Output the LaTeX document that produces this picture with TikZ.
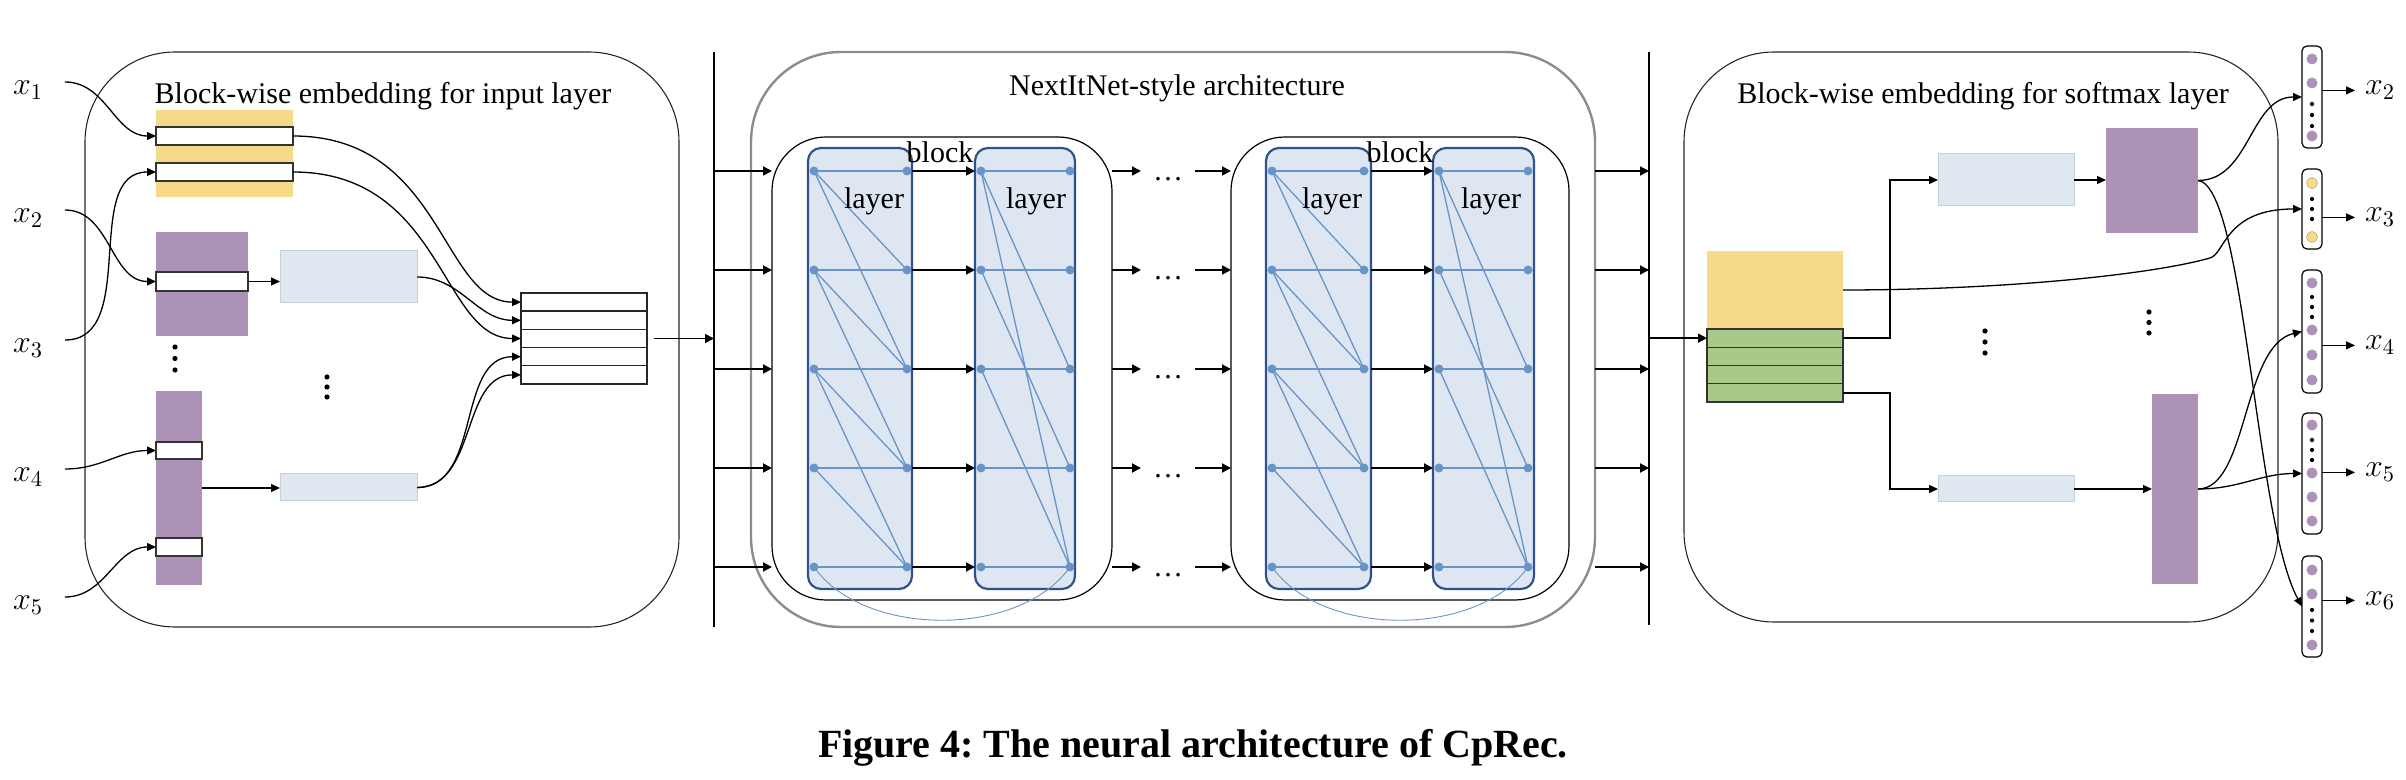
\RequirePackage{fix-cm}
\documentclass[tikz,border=0pt]{standalone}
\usepackage{fontspec}
\setmainfont{Liberation Serif}
\usetikzlibrary{arrows.meta,fit,calc}
\definecolor{cyel}{RGB}{246,218,138}
\definecolor{cpur}{RGB}{171,146,182}
\definecolor{clb}{RGB}{223,231,240}
\definecolor{clbd}{RGB}{198,209,222}
\definecolor{cgrn}{RGB}{169,201,139}
\definecolor{ccol}{RGB}{222,231,241}
\definecolor{ccold}{RGB}{47,82,143}
\definecolor{cnet}{RGB}{104,148,200}
\definecolor{cgray}{RGB}{140,140,140}
\begin{document}
\begin{tikzpicture}[x=0.5pt,y=-0.5pt,
  every node/.style={inner sep=0pt, outer sep=0pt},
  bx/.style={fit={#1}},
  panel/.style={draw=black!85, line width=0.55pt, rounded corners=45pt},
  wrect/.style={draw=black!80, fill=white, line width=0.8pt},
  lbbox/.style={fill=clb, draw=clbd, line width=0.5pt},
  colbox/.style={fill=ccol, draw=ccold, line width=1.1pt, rounded corners=6.5pt},
  blkbox/.style={draw, line width=0.6pt, rounded corners=27pt},
  stk/.style={draw=black!85, fill=white, line width=0.7pt},
  greenrow/.style={draw=black!80, fill=cgrn, line width=0.7pt},
  ndot/.style={circle, fill=cnet, minimum size=4.5pt},
  vdot/.style={circle, fill=black, minimum size=2.6pt},
  sdot/.style={circle, fill=black, minimum size=2.1pt},
  odot/.style={circle, fill=#1, minimum size=5.5pt},
  ovec/.style={draw, line width=0.6pt, rounded corners=2.5pt},
  arr/.style={-{Triangle[length=4.5pt,width=4pt]}, line width=0.65pt},
  barr/.style={-{Triangle[length=4.5pt,width=4.5pt]}, line width=0.9pt},
  hnet/.style={cnet, line width=1pt},
  dnet/.style={cnet, line width=0.65pt},
  ttl/.style={font=\fontsize{15}{18}\selectfont, anchor=base},
  xlab/.style={font=\fontsize{16}{19}\selectfont, anchor=base west},
  ell/.style={font=\fontsize{15}{18}\selectfont, minimum width=27pt, text height=10pt, text depth=0pt},
]
\useasboundingbox (0,0) rectangle (2406,780);

% ---------------- left panel ----------------
\node[panel, bx={(85,52)(679,627)}] (P1) {};
\node[ttl] (t1) at (383,104) {Block-wise embedding for input layer};
\node[bx={(156,110)(293,197)}, fill=cyel] (yel1) {};
\node[wrect, bx={(156,127)(293,145)}] (w1) {};
\node[wrect, bx={(156,163)(293,181)}] (w2) {};
\node[bx={(156,232)(248,336)}, fill=cpur] (pu1) {};
\node[wrect, bx={(156,272)(248,291)}] (w3) {};
\node[lbbox, bx={(280,251)(417,303)}] (lb1) {};
\node[bx={(156,391)(202,585)}, fill=cpur] (pu2) {};
\node[wrect, bx={(156,442)(202,459)}] (w4) {};
\node[wrect, bx={(156,538)(202,556)}] (w5) {};
\node[lbbox, bx={(280,474)(417,501)}] (lb2) {};
\node[stk, bx={(521,293)(647,311.2)}] (s1) {};
\node[stk, bx={(521,311.2)(647,329.4)}] (s2) {};
\node[stk, bx={(521,329.4)(647,347.6)}] (s3) {};
\node[stk, bx={(521,347.6)(647,365.8)}] (s4) {};
\node[stk, bx={(521,365.8)(647,384)}] (s5) {};
\node[vdot] (ld1) at (175,347) {};
\node[vdot] (ld2) at (175,358.5) {};
\node[vdot] (ld3) at (175,370) {};
\node[vdot] (ld4) at (327,377) {};
\node[vdot] (ld5) at (327,387) {};
\node[vdot] (ld6) at (327,397) {};

\node[xlab] (xi1) at (13,95) {$x_1$};
\node[xlab] (xi2) at (13,223) {$x_2$};
\node[xlab] (xi3) at (13,353) {$x_3$};
\node[xlab] (xi4) at (13,482) {$x_4$};
\node[xlab] (xi5) at (13,610) {$x_5$};
\draw[arr] ($(xi1.base east)+(22,-13)$) to[out=0,in=180] (w1.west);
\draw[arr] ($(xi2.base east)+(22,-13)$) to[out=0,in=180] (w3.west);
\draw[arr] ($(xi3.base east)+(22,-13)$) to[out=0,in=180] (w2.west);
\draw[arr] ($(xi4.base east)+(22,-13)$) to[out=0,in=180] (w4.west);
\draw[arr] ($(xi5.base east)+(22,-13)$) to[out=0,in=180] (w5.west);

\draw[arr] (w3.east) -- (w3.east -| lb1.west);
\draw[arr] (pu2.east) -- (pu2.east -| lb2.west);
\draw[arr] (w1.east) .. controls +(150,0) and +(-80,0) .. (s1.west);
\draw[arr] (w2.east) .. controls +(150,0) and +(-80,0) .. (s3.west);
\draw[arr] (lb1.east) to[out=0,in=180] (s2.west);
\draw[arr] (lb2.east) to[out=0,in=180] (s4.west);
\draw[arr] (lb2.east) to[out=0,in=180] (s5.west);

% ---------------- vertical bars ----------------
\coordinate (v1t) at (714,52);
\coordinate (v1b) at (714,627);
\coordinate (v2t) at (1649,52);
\coordinate (v2b) at (1649,625);
\draw[line width=0.8pt] (v1t) -- (v1b);
\draw[line width=0.8pt] (v2t) -- (v2b);
\draw[barr] ($(s3.east)+(7,0)$) -- (s3.east -| v1t);

% ---------------- middle panel ----------------
\node[draw=cgray, line width=1.2pt, rounded corners=45pt, bx={(751,52)(1595,627)}] (G) {};
\node[ttl] (t2) at (1177,96) {NextItNet-style architecture};
\node[blkbox, bx={(772,137)(1112,600)}] (B1) {};
\node[blkbox, bx={(1231,137)(1569,600)}] (B2) {};
\node[colbox, bx={(808,148)(912,589)}] (C1) {};
\node[colbox, bx={(975,148)(1075,589)}] (C2) {};
\node[colbox, bx={(1266,148)(1371,589)}] (C3) {};
\node[colbox, bx={(1433,148)(1534,589)}] (C4) {};

\foreach \c/\xl/\xr in {1/814/907,2/981/1070,3/1272/1364,4/1439/1528}{
  \foreach \r/\y in {1/171,2/270,3/369,4/468,5/567}{
    \coordinate (c\c l\r) at (\xl,\y);
    \coordinate (c\c r\r) at (\xr,\y);
  }
}
\foreach \c in {1,...,4}{\foreach \r in {1,...,5}{\draw[hnet] (c\c l\r) -- (c\c r\r);}}
\foreach \c in {1,3}{\foreach \a/\b in {1/2,1/3,2/3,2/4,3/4,3/5,4/5}{\draw[dnet] (c\c l\a) -- (c\c r\b);}}
\foreach \c in {2,4}{\foreach \a/\b in {1/3,1/5,2/4,3/5}{\draw[dnet] (c\c l\a) -- (c\c r\b);}}
\draw[cnet, line width=0.45pt] (c1l5) .. controls (864,638) and (1020,638) .. (c2r5);
\draw[cnet, line width=0.45pt] (c3l5) .. controls (1322,638) and (1478,638) .. (c4r5);
\foreach \c in {1,...,4}{\foreach \r in {1,...,5}{
  \node[ndot] (d\c l\r) at (c\c l\r) {};
  \node[ndot] (d\c r\r) at (c\c r\r) {};
}}
\node[ttl] (bk1) at (940,163) {block};
\node[ttl] (bk2) at (1400,163) {block};
\node[ttl] (ly1) at (874,209) {layer};
\node[ttl] (ly2) at (1036,209) {layer};
\node[ttl] (ly3) at (1332,209) {layer};
\node[ttl] (ly4) at (1491,209) {layer};

\foreach \r/\y in {1/171,2/270,3/369,4/468,5/567}{
  \node[ell] (e\r) at (1168,\y) {\ldots};
}
\foreach \r in {1,...,5}{
  \draw[barr] (c1r\r -| C1.east) -- (c1r\r -| C2.west);
  \draw[barr] (c3r\r -| C3.east) -- (c3r\r -| C4.west);
  \draw[barr] (c1l\r -| v1t) -- (c1l\r -| B1.west);
  \draw[barr] (c2r\r -| B1.east) -- (e\r.west);
  \draw[barr] (e\r.east) -- (c3l\r -| B2.west);
  \draw[barr] (c4r\r -| G.east) -- (c4r\r -| v2t);
}

% ---------------- right panel ----------------
\node[panel, bx={(1684,52)(2278,622)}] (P3) {};
\node[ttl] (t3) at (1983,104) {Block-wise embedding for softmax layer};
\node[bx={(1707,251)(1843,329)}, fill=cyel] (yel2) {};
\node[greenrow, bx={(1707,329)(1843,347.3)}] (g1) {};
\node[greenrow, bx={(1707,347.3)(1843,365.5)}] (g2) {};
\node[greenrow, bx={(1707,365.5)(1843,383.8)}] (g3) {};
\node[greenrow, bx={(1707,383.8)(1843,402)}] (g4) {};
\node[lbbox, bx={(1938,154)(2074,206)}] (lb3) {};
\node[bx={(2106,128)(2198,233)}, fill=cpur] (pu3) {};
\node[lbbox, bx={(1938,476)(2074,502)}] (lb4) {};
\node[bx={(2152,394)(2198,584)}, fill=cpur] (pu4) {};
\node[vdot] (rd1) at (1985,331) {};
\node[vdot] (rd2) at (1985,342) {};
\node[vdot] (rd3) at (1985,353) {};
\node[vdot] (rd4) at (2149,312) {};
\node[vdot] (rd5) at (2149,322.5) {};
\node[vdot] (rd6) at (2149,333) {};

\draw[barr] (g1.west -| v2t) -- (g1.west);
\draw[arr] (g1.east) -- ++(47,0) |- (lb3.west);
\draw[arr] (g4.east) -- ++(47,0) |- (lb4.west);
\draw[arr] (lb3.east) -- (lb3.east -| pu3.west);
\draw[arr] (lb4.east) -- (lb4.east -| pu4.west);

% output vectors
\node[ovec, bx={(2302,46)(2322,148)}] (o2) {};
\node[ovec, bx={(2302,169)(2322,249)}] (o3) {};
\node[ovec, bx={(2302,270)(2322,393)}] (o4) {};
\node[ovec, bx={(2302,413)(2322,534)}] (o5) {};
\node[ovec, bx={(2302,556)(2322,657)}] (o6) {};
\foreach \n/\y in {a/59,b/83,c/136}{\node[odot=cpur] (o2\n) at (2312,\y) {};}
\foreach \n/\y in {d/104,e/115,f/126}{\node[sdot] (o2\n) at (2312,\y) {};}
\foreach \n/\y in {a/183,b/237}{\node[odot=cyel, draw=cyel!75!black, line width=0.25pt] (o3\n) at (2312,\y) {};}
\foreach \n/\y in {d/199,e/209,f/219}{\node[sdot] (o3\n) at (2312,\y) {};}
\foreach \n/\y in {a/283,b/330,c/355,g/380}{\node[odot=cpur] (o4\n) at (2312,\y) {};}
\foreach \n/\y in {d/297,e/307,f/317}{\node[sdot] (o4\n) at (2312,\y) {};}
\foreach \n/\y in {a/425,b/473,c/497,g/521}{\node[odot=cpur] (o5\n) at (2312,\y) {};}
\foreach \n/\y in {d/440,e/450,f/460}{\node[sdot] (o5\n) at (2312,\y) {};}
\foreach \n/\y in {a/570,b/594,c/645}{\node[odot=cpur] (o6\n) at (2312,\y) {};}
\foreach \n/\y in {d/610,e/620.5,f/631}{\node[sdot] (o6\n) at (2312,\y) {};}

\node[xlab] (yo2) at (2365,95) {$x_2$};
\node[xlab] (yo3) at (2365,222) {$x_3$};
\node[xlab] (yo4) at (2365,350) {$x_4$};
\node[xlab] (yo5) at (2365,477) {$x_5$};
\node[xlab] (yo6) at (2365,605) {$x_6$};
\foreach \k in {2,...,6}{
  \draw[arr, shorten >=5pt] (yo\k.mid west -| o\k.east) -- (yo\k.mid west);
}

\draw[arr] (pu3.east) to[out=0,in=180] (o2.west);
\draw[arr] (pu3.east) .. controls +(47,5) and +(-47,-86) .. (o6.west);
\draw[arr] (yel2.east) .. controls (2000,290) and (2150,275) .. (2210,258) .. controls (2225,254) and (2225,209) .. (o3.west);
\draw[arr] (pu4.east) .. controls +(50,0) and +(-60,14) .. (o4.west);
\draw[arr] (pu4.east) to[out=0,in=180] (o5.west);

% caption
\node[font=\fontsize{20}{24}\selectfont\bfseries\frenchspacing, anchor=base] (cap) at (1193,757) {Figure 4: The neural architecture of CpRec.};
\end{tikzpicture}
\end{document}
